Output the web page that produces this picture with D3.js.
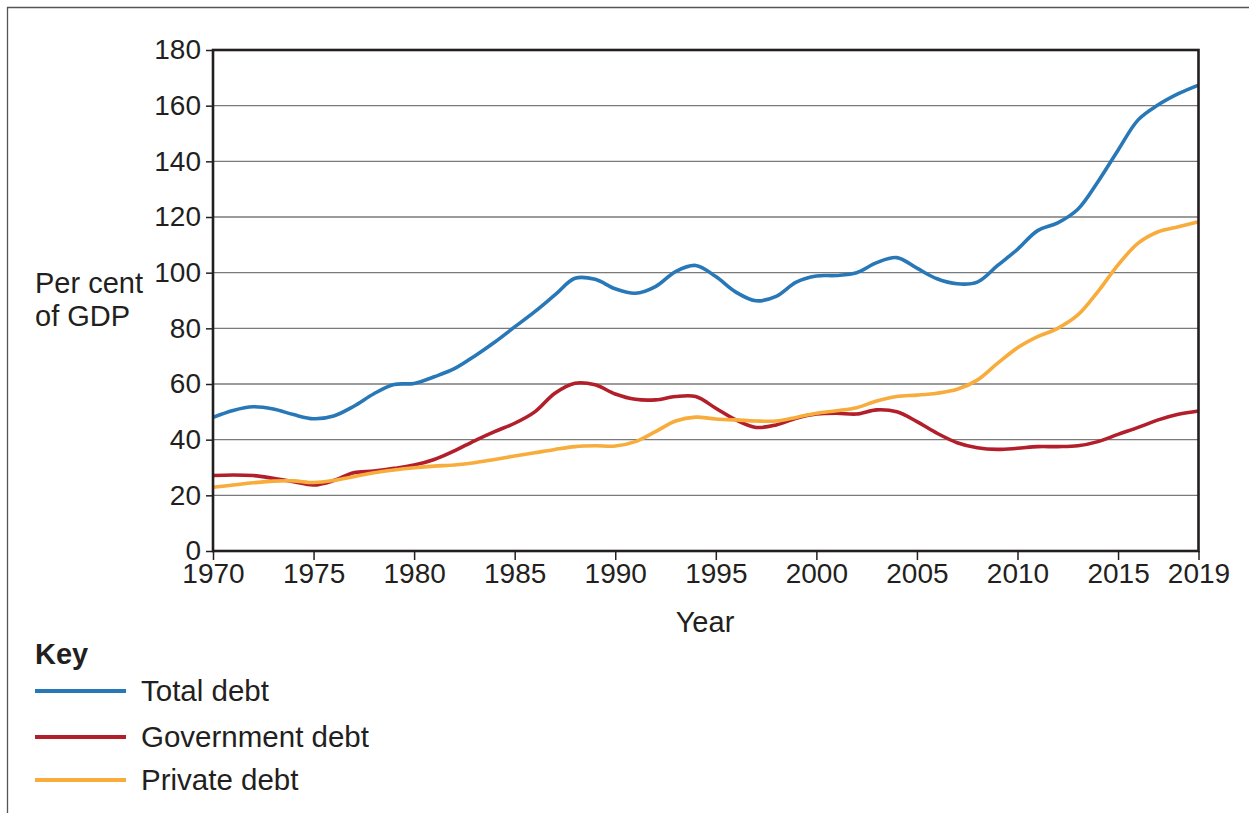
<!DOCTYPE html>
<html><head><meta charset="utf-8">
<script src="https://cdn.jsdelivr.net/npm/d3@7"></script>
<style>body{margin:0;background:#fff}svg{display:block}text{font-family:"Liberation Sans",Arial,sans-serif;fill:#231f20}</style>
</head><body><svg id="c" width="1249" height="813"></svg>
<script>
const years = d3.range(1970, 2020);
const totalDebt = [48,50.5,51.8,51,49,47.5,48.5,52,56.5,59.8,60.2,62.6,65.5,70,75,80.5,86,92,98,97.6,94.2,92.6,95,100.4,102.6,98.6,93,89.9,91.5,96.6,98.8,99,100,103.6,105.4,101.6,97.8,96,96.6,102.5,108.4,115.1,117.9,122.8,132.7,144,154.9,160.3,164.3,167.4];
const governmentDebt = [27.1,27.3,27.1,26.1,24.9,23.7,25.3,28.1,28.7,29.7,30.9,32.9,36,39.6,42.9,45.9,50,56.7,60.3,59.7,56.4,54.5,54.3,55.5,55.5,51.3,47.1,44.4,45.3,47.7,49.2,49.5,49.2,50.7,50,46.5,42.3,38.9,37.1,36.5,36.9,37.5,37.5,37.8,39.3,41.9,44.4,47.1,49.1,50.3];
const privateDebt = [22.9,23.7,24.5,25.1,25.2,24.6,25.3,26.7,28.1,29.1,29.9,30.5,30.9,31.7,32.9,34.1,35.3,36.5,37.5,37.8,37.7,39.3,42.9,46.7,48.1,47.4,47.1,46.7,46.7,48,49.5,50.4,51.5,53.9,55.5,56,56.7,58.1,61.4,67.4,73,77,80,84.8,93.2,102.8,110.6,114.7,116.5,118.3];
const seriesNames = ["Total debt","Government debt","Private debt"];
const seriesColors = ["#2878b8","#b21f2a","#f7ac3c"];
const yTicks = [0,20,40,60,80,100,120,140,160,180];
const xTicks = [1970,1975,1980,1985,1990,1995,2000,2005,2010,2015,2019];

const svg = d3.select("#c");
const L=213, R=1198.5, T=50, B=551;
const x = d3.scaleLinear().domain([1970,2019]).range([L,R]);
const y = d3.scaleLinear().domain([0,180]).range([B,T]);

// outer frame (top and left)
svg.append("path").attr("d","M7.5,813V7.5H1249").attr("fill","none").attr("stroke","#555").attr("stroke-width",1.3);

// gridlines
svg.append("g").selectAll("line").data(yTicks.filter(d=>d>0&&d<180)).join("line")
  .attr("x1",L).attr("x2",R).attr("y1",d=>y(d)).attr("y2",d=>y(d))
  .attr("stroke","#7a7a7a").attr("stroke-width",1.4);

// lines
const series=[totalDebt,governmentDebt,privateDebt];
const line = d3.line().x((d,i)=>x(years[i])).y(d=>y(d)).curve(d3.curveCatmullRom.alpha(0.5));
series.forEach((s,k)=>{
  svg.append("path").datum(s).attr("d",line).attr("fill","none")
    .attr("stroke",seriesColors[k]).attr("stroke-width",3.6).attr("stroke-linejoin","round");
});

// frame
svg.append("rect").attr("x",L).attr("y",T).attr("width",R-L).attr("height",B-T)
  .attr("fill","none").attr("stroke","#231f20").attr("stroke-width",2.6);

// y axis
const ya = svg.append("g").attr("transform",`translate(${L},0)`)
  .call(d3.axisLeft(y).tickValues(yTicks).tickSize(7).tickPadding(5));
ya.select(".domain").remove();
ya.selectAll("line").attr("stroke","#231f20").attr("stroke-width",1.5);
ya.selectAll("text").attr("font-size",28).attr("font-family","Liberation Sans, Arial, sans-serif").attr("fill","#231f20");

// x axis
const xa = svg.append("g").attr("transform",`translate(0,${B})`)
  .call(d3.axisBottom(x).tickValues(xTicks).tickFormat(d3.format("d")).tickSize(9).tickPadding(3));
xa.select(".domain").remove();
xa.selectAll("line").attr("stroke","#231f20").attr("stroke-width",1.5);
xa.selectAll("text").attr("font-size",28).attr("font-family","Liberation Sans, Arial, sans-serif").attr("fill","#231f20");

// axis titles
svg.append("text").attr("x",705).attr("y",632).attr("text-anchor","middle").attr("font-size",29).text("Year");
svg.append("text").attr("x",35).attr("y",293).attr("font-size",29).text("Per cent");
svg.append("text").attr("x",35).attr("y",326).attr("font-size",29).text("of GDP");

// legend
svg.append("text").attr("x",35).attr("y",664).attr("font-size",29).attr("font-weight","bold").text("Key");
const ly=[691,737,780];
seriesNames.forEach((n,k)=>{
  svg.append("line").attr("x1",35).attr("x2",126).attr("y1",ly[k]).attr("y2",ly[k])
    .attr("stroke",seriesColors[k]).attr("stroke-width",4);
  svg.append("text").attr("x",141).attr("y",ly[k]+10).attr("font-size",29.5).text(n);
});
</script></body></html>
